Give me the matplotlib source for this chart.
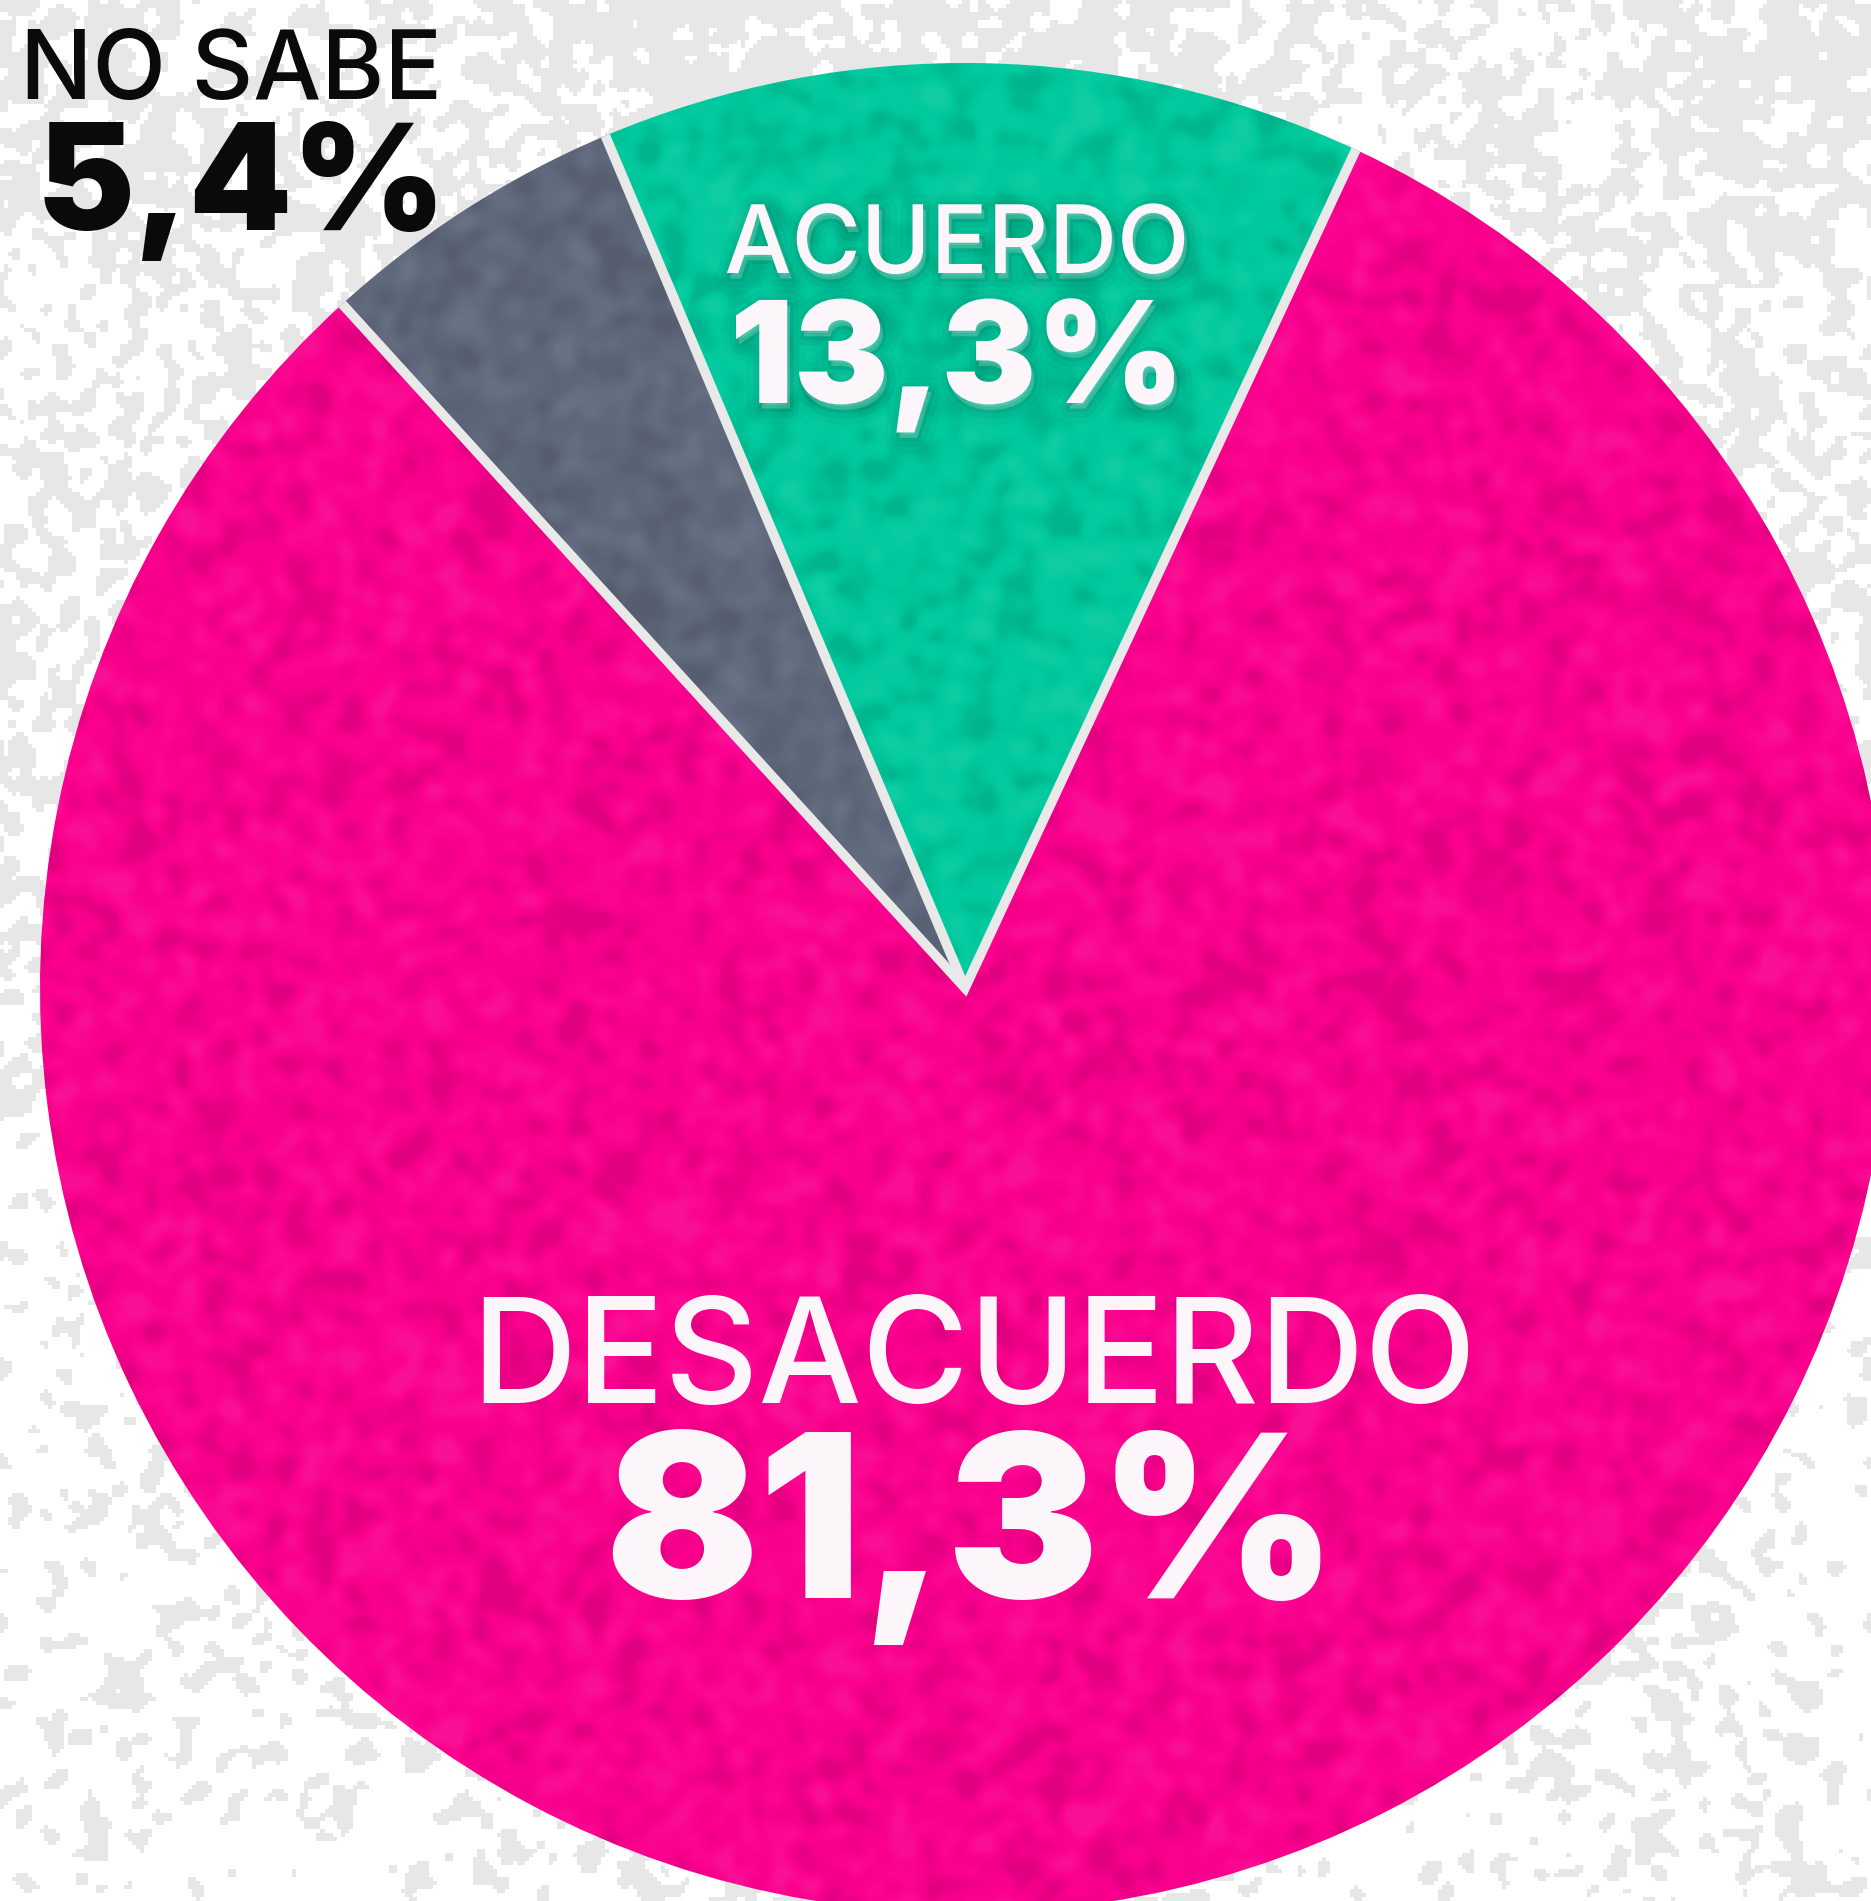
import numpy as np
import matplotlib
matplotlib.use("Agg")
import matplotlib.pyplot as plt
from matplotlib import patheffects as pe
from matplotlib.patches import Circle

# Survey result
labels = ["ACUERDO", "NO SABE", "DESACUERDO"]
values = [13.3, 5.4, 81.3]
value_labels = ["13,3%", "5,4%", "81,3%"]
colors = ["#00C99D", "#5F687B", "#FA008D"]

W, H = 1871, 1901
FONT = "Inter"


def smooth_noise(h, w, sigma, rng):
    """Gaussian-smoothed white noise, normalised to unit std."""
    n = rng.standard_normal((h, w))
    fy = np.fft.fftfreq(h)[:, None]
    fx = np.fft.fftfreq(w)[None, :]
    g = np.exp(-2 * (np.pi * sigma) ** 2 * (fx ** 2 + fy ** 2))
    s = np.real(np.fft.ifft2(np.fft.fft2(n) * g))
    return (s - s.mean()) / s.std()


rng = np.random.default_rng(7)

fig = plt.figure(figsize=(W / 100, H / 100), dpi=100)
ax = fig.add_axes([0, 0, 1, 1])

# Paper-like grey/white background
bh, bw = H // 4, W // 4
fine = smooth_noise(bh, bw, 1.5, rng)
coarse = smooth_noise(bh, bw, 25, rng)
yy = np.linspace(0, 1, bh)[:, None]          # 0 at bottom row, 1 at top row
thresh = 0.9 - 1.2 * yy - 0.35 * coarse
grey = (fine > thresh)
bg = np.ones((bh, bw, 3))
bg[grey] = np.array([231, 231, 231]) / 255
ax.imshow(bg, extent=(0, W, 0, H), origin="lower", interpolation="nearest",
          zorder=0, aspect="auto")

# Pie
cx, cy, R = 965, 913, 925
wedges, _ = ax.pie(values, colors=colors, startangle=65, counterclock=True,
                   center=(cx, cy), radius=R,
                   wedgeprops=dict(linewidth=0, zorder=2))
for w in wedges:
    w.set_zorder(2)

# Mottled texture on the pie (mostly darker blotches over a bright base)
ph, pw = H // 3, W // 3
tex = smooth_noise(ph, pw, 2.5, rng)
over = np.zeros((ph, pw, 4))
pos = tex > 0
over[pos, :3] = 1.0
over[pos, 3] = np.clip(tex[pos] * 0.03, 0, 0.07)
over[~pos, 3] = np.clip(-tex[~pos] * 0.05, 0, 0.10)
im = ax.imshow(over, extent=(0, W, 0, H), origin="lower", interpolation="bilinear",
               zorder=3, aspect="auto")
im.set_clip_path(Circle((cx, cy), R, transform=ax.transData))

# Light separators between slices
def rim(theta):
    t = np.deg2rad(theta)
    return cx + R * np.cos(t), cy + R * np.sin(t)

a0 = rim(wedges[0].theta1)
a1 = rim(wedges[0].theta2)
a2 = rim(wedges[1].theta2)
sep = dict(color="#E9E9E9", lw=7, solid_joinstyle="miter", solid_capstyle="butt", zorder=4)
ax.plot([a0[0], cx, a2[0]], [a0[1], cy, a2[1]], **sep)
ax.plot([cx, a1[0]], [cy, a1[1]], **sep)

ax.set_xlim(0, W)
ax.set_ylim(0, H)
ax.set_aspect("auto")
ax.axis("off")

# Labels
light = "#FCF6FA"
ax.text(20, H - 99, labels[1], color="#0A0A0A", fontsize=69, family=FONT,
        fontweight="medium", ha="left", va="baseline", zorder=6)
ax.text(37, H - 230, value_labels[1], color="#0A0A0A", fontsize=106, family=FONT,
        fontweight="black", ha="left", va="baseline", zorder=6)

glow = [pe.Stroke(linewidth=22, foreground="#006b54", alpha=0.06, offset=(2, -4)),
        pe.Stroke(linewidth=13, foreground="#006b54", alpha=0.10, offset=(2, -4)),
        pe.Stroke(linewidth=5, foreground="#006b54", alpha=0.16, offset=(2, -4)),
        pe.Normal()]
ax.text(957, H - 273, labels[0], color=light, fontsize=68, family=FONT,
        fontweight="medium", ha="center", va="baseline", zorder=6, path_effects=glow)
ax.text(957, H - 403, value_labels[0], color=light, fontsize=102, family=FONT,
        fontweight="black", ha="center", va="baseline", zorder=6, path_effects=glow)

ax.text(974, H - 1403, labels[2], color=light, fontsize=105, family=FONT,
        fontweight="medium", ha="center", va="baseline", zorder=6)
ax.text(971, H - 1598, value_labels[2], color=light, fontsize=164, family=FONT,
        fontweight="black", ha="center", va="baseline", zorder=6)

fig.savefig("out.png", dpi=100)
